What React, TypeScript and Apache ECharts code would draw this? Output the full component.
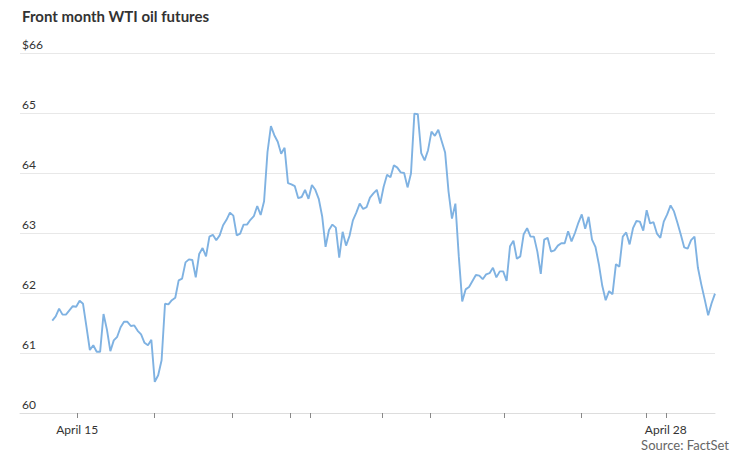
import React, { useEffect, useRef } from "react";
import * as echarts from "echarts";

// Front month WTI oil futures, intraday readings (index = sampling step)
const wtiPrice: number[] = [
  61.54, 61.61, 61.74, 61.64, 61.64, 61.71, 61.78, 61.77, 61.87, 61.82,
  61.44, 61.05, 61.13, 61.02, 61.02, 61.65, 61.39, 61.03, 61.21, 61.27,
  61.43, 61.52, 61.52, 61.45, 61.46, 61.37, 61.31, 61.17, 61.13, 61.22,
  60.52, 60.63, 60.88, 61.82, 61.81, 61.88, 61.92, 62.21, 62.24, 62.51,
  62.56, 62.55, 62.26, 62.65, 62.75, 62.61, 62.94, 62.97,
  62.88, 62.96, 63.13, 63.22, 63.34, 63.29, 62.96, 62.99, 63.14, 63.14,
  63.22, 63.28, 63.45, 63.30, 63.53, 64.35, 64.78, 64.63, 64.52, 64.32,
  64.42, 63.83, 63.81, 63.78, 63.58, 63.60, 63.72, 63.57, 63.80, 63.72,
  63.57, 63.28, 62.77, 63.05, 63.14, 63.09, 62.59, 63.02, 62.79, 62.95,
  63.21, 63.34, 63.49, 63.40, 63.43, 63.59, 63.66, 63.72,
  63.49, 63.77, 63.97, 63.93, 64.13, 64.09, 64.01, 64.00, 63.76, 63.99,
  64.99, 64.98, 64.33, 64.21, 64.38, 64.69, 64.62, 64.72, 64.53, 64.34,
  63.69, 63.24, 63.49, 62.61, 61.86, 62.06, 62.10, 62.20, 62.30, 62.29,
  62.23, 62.31, 62.33, 62.42, 62.26, 62.36, 62.36, 62.20, 62.78, 62.87,
  62.57, 62.61, 62.98, 63.08, 62.94, 62.94, 62.69,
  62.32, 62.89, 62.92, 62.69, 62.71, 62.79, 62.83, 62.83, 63.03, 62.86,
  63.00, 63.17, 63.31, 63.07, 63.27, 62.89, 62.77, 62.48, 62.12, 61.88,
  62.03, 61.98, 62.48, 62.44, 62.94, 63.01, 62.81, 63.08, 63.20, 63.19,
  63.04, 63.38, 63.16, 63.18, 62.99, 62.92, 63.19, 63.31, 63.46, 63.36,
  63.17, 62.97, 62.76, 62.74, 62.88, 62.94, 62.42, 62.14, 61.89, 61.63,
  61.83, 61.99,
];

// x-axis tick positions (in sampling steps) and labelled ticks
const tickSteps: number[] = [7.3, 29.8, 52.6, 69.6, 75.5, 96.5, 110.5, 132.2, 154.9, 173.8, 179.6];
const labelSteps: number[] = [7.3, 179.6];
const labelTexts: string[] = ["April 15", "April 28"];

const yMin = 60;
const yMax = 66;

const title = "Front month WTI oil futures";
const source = "Source: FactSet";

export default function App() {
  const ref = useRef<HTMLDivElement>(null);

  useEffect(() => {
    if (!ref.current) return;
    const chart = echarts.init(ref.current, undefined, { renderer: "svg" });
    const font = "Lato, 'Noto Sans', sans-serif";
    chart.setOption({
      animation: false,
      backgroundColor: "#ffffff",
      textStyle: { fontFamily: font },
      title: {
        text: title,
        left: 22,
        top: 8,
        padding: 0,
        textStyle: { fontSize: 15, fontWeight: "bold", color: "#333333", fontFamily: font },
      },
      graphic: [
        {
          type: "text",
          right: 21,
          top: 438,
          style: { text: source, fontSize: 13, fill: "#666666", fontFamily: font },
        },
      ],
      grid: { left: 20, right: 35, top: 53, bottom: 44, containLabel: false },
      xAxis: {
        type: "value",
        min: -9.45,
        max: wtiPrice.length - 1,
        splitLine: { show: false },
        axisLine: { show: true, lineStyle: { color: "#dddddd", width: 1 } },
        axisTick: {
          show: true,
          customValues: tickSteps,
          length: 5,
          lineStyle: { color: "#888888", width: 1 },
        },
        axisLabel: {
          show: true,
          customValues: labelSteps,
          formatter: (v: number) => {
            const k = labelSteps.findIndex((s) => Math.abs(s - v) < 0.01);
            return k >= 0 ? labelTexts[k] : "";
          },
          fontSize: 12,
          color: "#333333",
          margin: 10,
          fontFamily: font,
        },
      },
      yAxis: {
        type: "value",
        min: yMin,
        max: yMax,
        interval: 1,
        axisLine: { show: false },
        axisTick: { show: false },
        splitLine: { show: true, lineStyle: { color: "#e8e8e8", width: 1 } },
        axisLabel: {
          inside: true,
          align: "left",
          verticalAlign: "bottom",
          margin: 2,
          padding: [0, 0, 3, 0],
          fontSize: 12,
          color: "#333333",
          fontFamily: font,
          formatter: (v: number) => (v === yMax ? "$" + v : String(v)),
        },
      },
      series: [
        {
          type: "line",
          data: wtiPrice.map((v, i) => [i, v]),
          showSymbol: false,
          symbol: "none",
          lineStyle: { color: "#7fb2e2", width: 1.9 },
          z: 3,
        },
      ],
    });
    return () => chart.dispose();
  }, []);

  return (
    <div
      ref={ref}
      style={{ position: "absolute", left: 0, top: 0, width: 750, height: 457, background: "#fff" }}
    />
  );
}
